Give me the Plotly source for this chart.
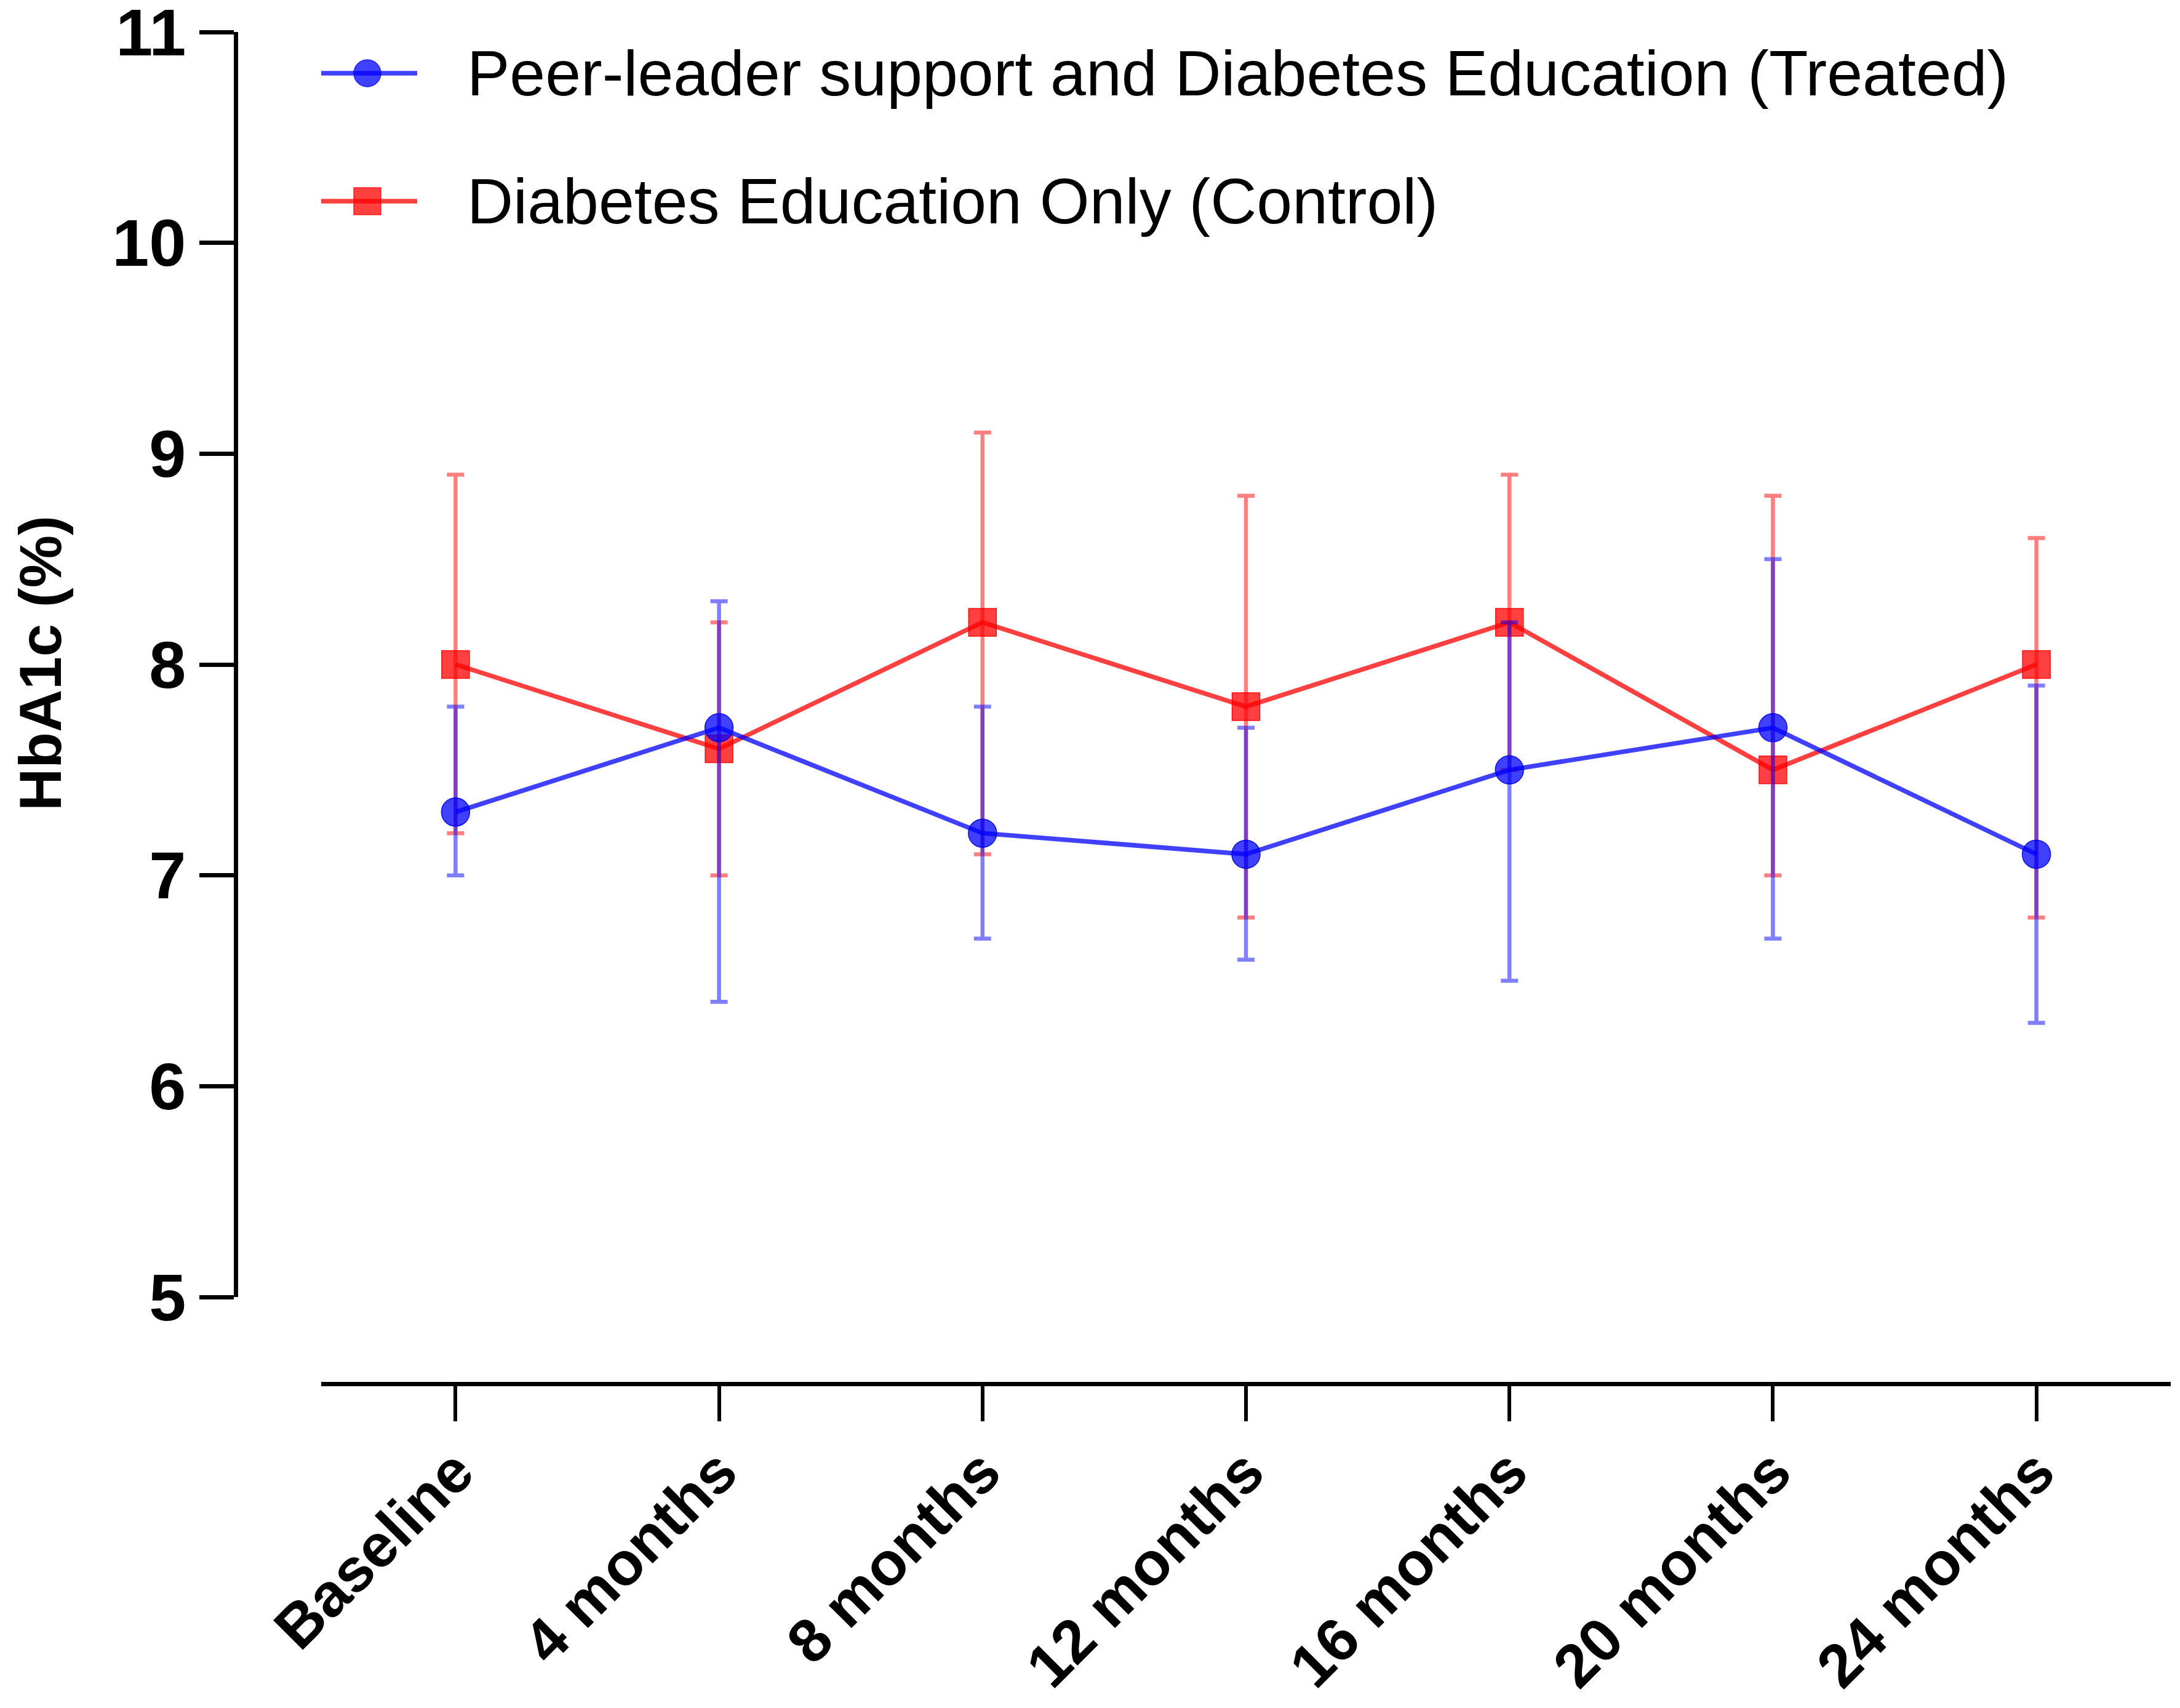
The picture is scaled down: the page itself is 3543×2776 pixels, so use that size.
import plotly.graph_objects as go

# ---- data ----
categories = ["Baseline", "4 months", "8 months", "12 months", "16 months", "20 months", "24 months"]

treated_mean = [7.3, 7.7, 7.2, 7.1, 7.5, 7.7, 7.1]
treated_upper = [7.8, 8.3, 7.8, 7.7, 8.2, 8.5, 7.9]
treated_lower = [7.0, 6.4, 6.7, 6.6, 6.5, 6.7, 6.3]

control_mean = [8.0, 7.6, 8.2, 7.8, 8.2, 7.5, 8.0]
control_upper = [8.9, 8.2, 9.1, 8.8, 8.9, 8.8, 8.6]
control_lower = [7.2, 7.0, 7.1, 6.8, 7.5, 7.0, 6.8]

y_ticks = [5, 6, 7, 8, 9, 10, 11]

treated_name = "Peer-leader support and Diabetes Education (Treated)"
control_name = "Diabetes Education Only (Control)"

# ---- geometry (pixels of the 3543 x 2776 window; page body has an 8px margin) ----
OFF = 8
W, H = 3543 - 2 * OFF, 2776 - 2 * OFF
FONT = "Liberation Sans, Arial, Helvetica, sans-serif"


def px(x):
    return (x - OFF) / W


def py(y):
    return 1 - (y - OFF) / H


BLUE_LINE = "rgba(0,0,255,0.75)"
BLUE_ERR = "rgba(0,0,255,0.5)"
RED_LINE = "rgba(255,0,0,0.75)"
RED_ERR = "rgba(255,0,0,0.5)"

fig = go.Figure()

fig.add_trace(go.Scatter(
    x=categories, y=control_mean, name=control_name, mode="lines+markers",
    line=dict(color=RED_LINE, width=7.5),
    marker=dict(symbol="square", size=45, color=RED_LINE,
                line=dict(color="rgba(255,0,0,0.9)", width=1.5)),
    error_y=dict(type="data", symmetric=False,
                 array=[u - m for u, m in zip(control_upper, control_mean)],
                 arrayminus=[m - l for m, l in zip(control_mean, control_lower)],
                 color=RED_ERR, thickness=6.5, width=14),
    showlegend=False, cliponaxis=False,
))

fig.add_trace(go.Scatter(
    x=categories, y=treated_mean, name=treated_name, mode="lines+markers",
    line=dict(color=BLUE_LINE, width=7.5),
    marker=dict(symbol="circle", size=46, color=BLUE_LINE,
                line=dict(color="rgba(0,0,230,0.9)", width=1.5)),
    error_y=dict(type="data", symmetric=False,
                 array=[u - m for u, m in zip(treated_upper, treated_mean)],
                 arrayminus=[m - l for m, l in zip(treated_mean, treated_lower)],
                 color=BLUE_ERR, thickness=6.5, width=14),
    showlegend=False, cliponaxis=False,
))

# ---- legend drawn at the reference size ----
shapes = []
annotations = []
legend_rows = [
    (119, treated_name, BLUE_LINE, "circle"),
    (327, control_name, RED_LINE, "square"),
]
for ycen, label, col, sym in legend_rows:
    shapes.append(dict(type="line", xref="paper", yref="paper",
                       x0=px(522), x1=px(678), y0=py(ycen), y1=py(ycen),
                       line=dict(color=col, width=7.5)))
    r = 22
    cx = 597
    shapes.append(dict(type="circle" if sym == "circle" else "rect",
                       xref="paper", yref="paper",
                       x0=px(cx - r), x1=px(cx + r), y0=py(ycen + r), y1=py(ycen - r),
                       fillcolor=col, line=dict(color=col, width=1.5)))
    annotations.append(dict(text=label, xref="paper", yref="paper",
                            x=px(757), y=py(ycen), xanchor="left", yanchor="middle",
                            showarrow=False,
                            font=dict(family=FONT, size=104, color="black")))

annotations.append(dict(text="HbA1c (%)", xref="paper", yref="paper",
                        x=px(66), y=py(1078), xanchor="center", yanchor="middle",
                        textangle=-90, showarrow=False,
                        font=dict(family=FONT, size=96, color="black", weight="bold")))

fig.update_layout(
    template="none",
    width=W, height=H,
    margin=dict(l=0, r=0, t=0, b=0, pad=0),
    paper_bgcolor="white", plot_bgcolor="white",
    font=dict(family=FONT, color="black"),
    showlegend=False,
    shapes=shapes,
    annotations=annotations,
    xaxis=dict(
        type="category", categoryorder="array", categoryarray=categories,
        range=[-0.51, 6.51],
        domain=[px(522), px(3528)],
        anchor="free", position=py(2249),
        automargin=False, ticklabeloverflow="allow",
        showline=True, linewidth=7, linecolor="black",
        ticks="outside", ticklen=57, tickwidth=6, tickcolor="black",
        tickangle=-45, ticklabelstandoff=-16,
        tickfont=dict(family=FONT, size=99, color="black", weight="bold"),
        showgrid=False, zeroline=False,
    ),
    yaxis=dict(
        range=[5, 11],
        domain=[py(2108), py(52)],
        anchor="free", position=px(383),
        automargin=False, ticklabeloverflow="allow",
        tickvals=y_ticks, ticktext=[str(v) for v in y_ticks],
        showline=True, linewidth=7, linecolor="black",
        ticks="outside", ticklen=56, tickwidth=7, tickcolor="black",
        tickfont=dict(family=FONT, size=108, color="black", weight="bold"),
        showgrid=False, zeroline=False,
    ),
)

fig.write_html("out.html")
